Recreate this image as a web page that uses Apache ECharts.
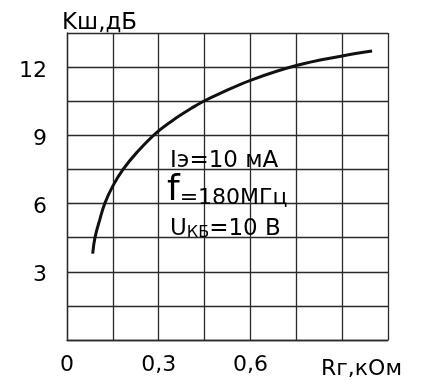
<!DOCTYPE html>
<html>
<head>
<meta charset="utf-8">
<script src="https://cdn.jsdelivr.net/npm/echarts@6/dist/echarts.min.js"></script>
<style>html,body{margin:0;padding:0;background:#fff;}#c{width:421px;height:380px;}</style>
</head>
<body>
<div id="c"></div>
<script>
// Data
var rValues = [0.084, 0.0915, 0.108, 0.124, 0.151, 0.184, 0.228, 0.293, 0.358, 0.413, 0.45, 0.494, 0.6, 0.75, 0.9, 0.998];
var kValues = [3.8, 4.5, 5.33, 6.02, 6.8, 7.51, 8.24, 9.12, 9.77, 10.24, 10.52, 10.8, 11.42, 12.07, 12.49, 12.71];
var xTickValues = [0, 0.3, 0.6];
var xTickLabels = ['0', '0,3', '0,6'];
var yTickValues = [3, 6, 9, 12];
var yTickLabels = ['3', '6', '9', '12'];

var points = rValues.map(function (r, i) { return [r, kValues[i]]; });
var FONT = '"DejaVu Sans", "Liberation Sans", Arial, sans-serif';
var GRID = '#2a2a2a';

function findLabel(v, vals, labels) {
  for (var i = 0; i < vals.length; i++) {
    if (Math.abs(vals[i] - v) < 1e-6) return labels[i];
  }
  return '';
}

var chart = echarts.init(document.getElementById('c'));
chart.setOption({
  animation: false,
  backgroundColor: '#fff',
  grid: { left: 67, top: 33, right: 33, bottom: 38, containLabel: false },
  xAxis: {
    type: 'value', min: 0, max: 1.05, interval: 0.15,
    name: 'Rг,кОм', nameLocation: 'end', nameGap: 14,
    nameTextStyle: { color: '#000', fontFamily: FONT, fontSize: 22, align: 'right', verticalAlign: 'top', padding: [18, 0, 0, 0] },
    axisLine: { show: true, lineStyle: { color: GRID, width: 1.3 } },
    axisTick: { show: false },
    splitLine: { show: true, lineStyle: { color: GRID, width: 1.3 } },
    axisLabel: {
      color: '#000', fontFamily: FONT, fontSize: 22, margin: 14,
      showMinLabel: true, showMaxLabel: true,
      formatter: function (v) { return findLabel(v, xTickValues, xTickLabels); }
    }
  },
  yAxis: {
    type: 'value', min: 0, max: 13.5, interval: 1.5,
    name: 'Kш,дБ', nameLocation: 'end', nameGap: -2,
    nameTextStyle: { color: '#000', fontFamily: FONT, fontSize: 23, align: 'left', padding: [0, 0, 0, -5] },
    axisLine: { show: true, lineStyle: { color: GRID, width: 1.3 } },
    axisTick: { show: false },
    splitLine: { show: true, lineStyle: { color: GRID, width: 1.3 } },
    axisLabel: {
      color: '#000', fontFamily: FONT, fontSize: 22, margin: 20,
      verticalAlign: 'top', lineHeight: 8,
      formatter: function (v) { return findLabel(v, yTickValues, yTickLabels); }
    }
  },
  graphic: [
    { type: 'text', left: 170, top: 150, z: 10,
      style: { text: 'Iэ=10 мА', fontFamily: FONT, fontSize: 23, fill: '#000' } },
    { type: 'text', left: 167, top: 173, z: 10,
      style: {
        text: '{f|f}{r|=180МГц}', fontFamily: FONT, fill: '#000',
        rich: {
          f: { fontSize: 36, fontFamily: FONT, verticalAlign: 'bottom', lineHeight: 38 },
          r: { fontSize: 22, fontFamily: FONT, verticalAlign: 'bottom', lineHeight: 38 }
        }
      } },
    { type: 'text', left: 170, top: 218, z: 10,
      style: {
        text: '{a|U}{b|КБ}{a|=10 В}', fontFamily: FONT, fill: '#000',
        rich: {
          a: { fontSize: 23, fontFamily: FONT, verticalAlign: 'bottom', lineHeight: 28 },
          b: { fontSize: 16, fontFamily: FONT, verticalAlign: 'bottom', lineHeight: 28 }
        }
      } }
  ],
  series: [{
    type: 'line', data: points, smooth: 0.4, showSymbol: false, symbol: 'none',
    lineStyle: { color: '#111', width: 3 }, z: 5
  }]
});
</script>
</body>
</html>
